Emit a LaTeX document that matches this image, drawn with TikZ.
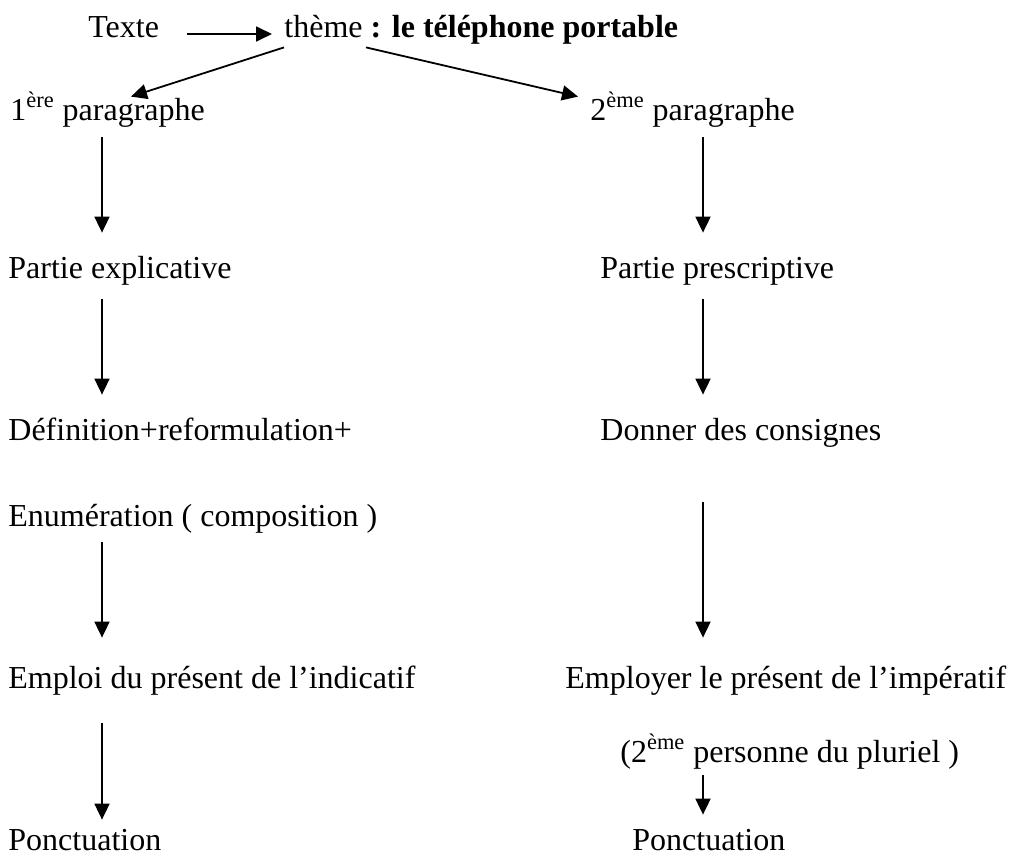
\documentclass[tikz,border=0pt]{standalone}
\usepackage{fontspec}
\setmainfont{Liberation Serif}
\usetikzlibrary{arrows.meta}

\begin{document}
\begin{tikzpicture}[x=0.5pt, y=-0.5pt,
  lbl/.style={inner sep=0pt, anchor=base west, text height=11.5pt, text depth=3.5pt, font=\fontsize{16}{19}\selectfont},
  arrow/.style={-{Triangle[length=8pt, width=7.5pt]}, line width=0.9pt}]
\useasboundingbox (0,0) rectangle (1010,857);

\node[lbl] (texte) at (88,37) {Texte};
\node[lbl] (theme) at (284,37) {thème \textbf{: le téléphone portable}};

\node[lbl] (para1) at (10,120) {1\textsuperscript{ère} paragraphe};
\node[lbl] (para2) at (590,120) {2\textsuperscript{ème} paragraphe};

\node[lbl] (explic) at (8,278) {Partie explicative};
\node[lbl] (prescr) at (600,278) {Partie prescriptive};

\node[lbl] (defin) at (8,440) {Définition+reformulation+};
\node[lbl] (enum) at (8,526) {Enumération ( composition )};
\node[lbl] (consig) at (600,440) {Donner des consignes};

\node[lbl] (indic) at (8,688) {Emploi du présent de l’indicatif};
\node[lbl] (imper) at (565,688) {Employer le présent de l’impératif};
\node[lbl] (pers) at (620,762) {(2\textsuperscript{ème} personne du pluriel )};

\node[lbl] (ponct1) at (8,850) {Ponctuation};
\node[lbl] (ponct2) at (632,850) {Ponctuation};

\coordinate (colL) at (102,0);
\coordinate (colR) at (703,0);

\draw[arrow, shorten <=14pt, shorten >=6pt] ([yshift=1.5pt]texte.base east) -- ([yshift=1.5pt]theme.base west);
\draw[arrow] ([yshift=-1.5pt]theme.south west) -- ([xshift=60.5pt]para1.north west);
\draw[arrow] ([xshift=41pt, yshift=-1.5pt]theme.south west) -- ([xshift=-6pt]para2.north west);

\draw[arrow, shorten <=5pt, shorten >=11pt] (para1.south -| colL) -- (explic.north -| colL);
\draw[arrow, shorten <=7pt, shorten >=11pt] (explic.south -| colL) -- (defin.north -| colL);
\draw[arrow, shorten <=4.5pt, shorten >=13.5pt] (enum.south -| colL) -- (indic.north -| colL);
\draw[arrow, shorten <=14pt, shorten >=3.5pt] (indic.south -| colL) -- (ponct1.north -| colL);

\draw[arrow, shorten <=5pt, shorten >=11pt] (para2.south -| colR) -- (prescr.north -| colR);
\draw[arrow, shorten <=7pt, shorten >=11pt] (prescr.south -| colR) -- (consig.north -| colR);
\draw[arrow, shorten <=27.5pt, shorten >=13.5pt] (consig.south -| colR) -- (imper.north -| colR);
\draw[arrow, shorten <=3pt, shorten >=6pt] (pers.south -| colR) -- (ponct2.north -| colR);
\end{tikzpicture}
\end{document}
